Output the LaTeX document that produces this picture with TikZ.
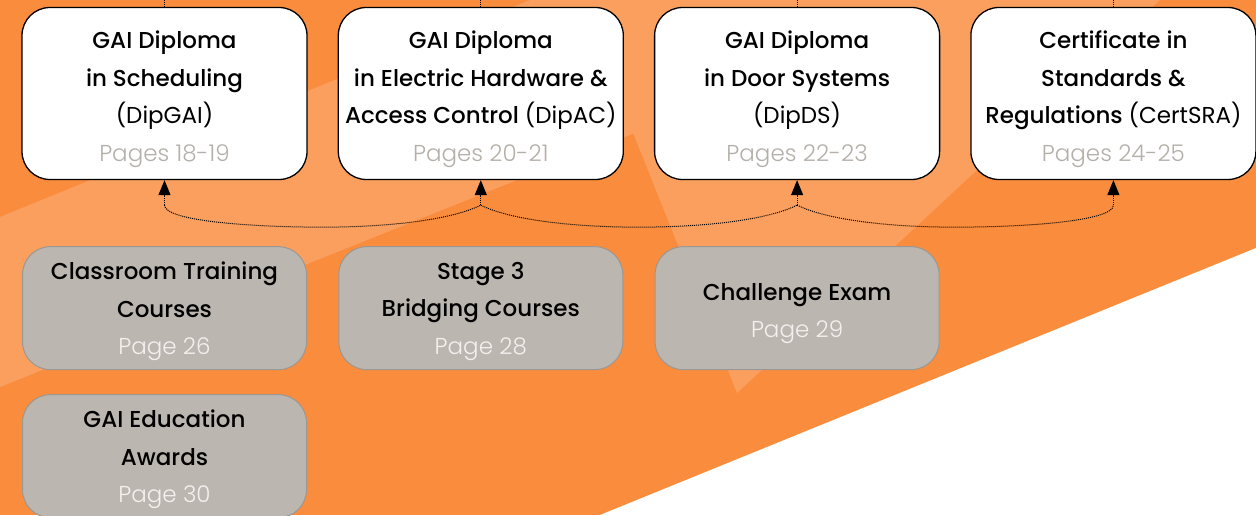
\documentclass[tikz,border=0pt]{standalone}
\usepackage{fontspec}
\setmainfont{Poppins}
\newfontfamily\medfont{Poppins Medium}
\newfontfamily\thinfont{Poppins Light}
\usetikzlibrary{arrows.meta, calc, positioning}
\definecolor{darkorange}{HTML}{F98C3D}
\definecolor{lightorange}{HTML}{FA9F5E}
\definecolor{boxgray}{HTML}{BBB6B0}
\definecolor{edgegray}{HTML}{9B9894}
\definecolor{pagegray}{HTML}{B5AFA9}
\definecolor{pagewhite}{HTML}{F3F1EF}
\newcommand{\topgap}{\rule{0pt}{23pt}}
\tikzstyle{course} = [rectangle, rounded corners=28pt, draw=black, line width=1.3pt, fill=white, minimum width=285pt, minimum height=172pt, inner sep=0pt, text depth=0pt, align=center, text=black, font=\fontsize{23}{37.5}\selectfont\medfont]
\tikzstyle{extra} = [course, draw=edgegray, line width=1pt, fill=boxgray, minimum width=284pt, minimum height=123pt]
\tikzstyle{link} = [densely dotted, line width=1pt, black]
\tikzstyle{arrow} = [link, -{Triangle[width=12pt,length=15pt]}]

\begin{document}
\begin{tikzpicture}[x=1pt, y=1pt]
	\useasboundingbox (0,0) rectangle (1256,515);
	\clip (0,0) rectangle (1256,515);
	% background
	\fill [darkorange] (0,0) rectangle (1256,515);
	\fill [lightorange] (0,298) -- (530,515) -- (967,515) -- (0,128) -- cycle;
	\fill [lightorange] (580,515) -- (1160,515) -- (737,122) -- cycle;
	\fill [white] (600,0) -- (1256,267) -- (1256,0) -- cycle;
	\coordinate (top) at (0,515);

	% qualifications
	\node (dipGAI) [course] at (164.5,421.5) {\topgap GAI Diploma\\in Scheduling\\{\rmfamily(DipGAI)}\\{\thinfont\color{pagegray}Pages 18-19}};
	\node (dipAC) [course, right = 30pt of dipGAI] {\topgap GAI Diploma\\in Electric Hardware \&\\Access Control {\rmfamily(DipAC)}\\{\thinfont\color{pagegray}Pages 20-21}};
	\node (dipDS) [course, right = 30pt of dipAC] {\topgap GAI Diploma\\in Door Systems\\{\rmfamily(DipDS)}\\{\thinfont\color{pagegray}Pages 22-23}};
	\node (certSRA) [course, right = 30pt of dipDS] {\topgap Certificate in\\Standards \&\\Regulations {\rmfamily(CertSRA)}\\{\thinfont\color{pagegray}Pages 24-25}};

	% other routes
	\node (classroom) [extra, below = 66pt of dipGAI] {Classroom Training\\Courses\\{\thinfont\color{pagewhite}Page 26}};
	\node (bridging) [extra, below = 66pt of dipAC] {Stage 3\\Bridging Courses\\{\thinfont\color{pagewhite}Page 28}};
	\node (challenge) [extra, below = 66pt of dipDS] {\rule{0pt}{22pt}Challenge Exam\\{\thinfont\color{pagewhite}Page 29}};
	\node (awards) [extra, below = 24pt of classroom] {GAI Education\\Awards\\{\thinfont\color{pagewhite}Page 30}};

	% links
	\coordinate (j1) at ($(dipGAI.south)+(0,-25)$);
	\coordinate (j2) at ($(dipAC.south)+(0,-25)$);
	\coordinate (j3) at ($(dipDS.south)+(0,-25)$);
	\coordinate (j4) at ($(certSRA.south)+(0,-25)$);
	\coordinate (m1) at ($(j1)!0.5!(j2)+(0,-22)$);
	\coordinate (m2) at ($(j2)!0.5!(j3)+(0,-22)$);
	\coordinate (m3) at ($(j3)!0.5!(j4)+(0,-22)$);
	\draw [arrow] (j1) -- (dipGAI.south);
	\draw [arrow] (j2) -- (dipAC.south);
	\draw [arrow] (j3) -- (dipDS.south);
	\draw [arrow] (j4) -- (certSRA.south);
	\draw [link] (j1) .. controls +(0,-16) and +(-70,0) .. (m1) .. controls +(70,0) and +(-28,-14) .. (j2);
	\draw [link] (j2) .. controls +(28,-14) and +(-70,0) .. (m2) .. controls +(70,0) and +(-28,-14) .. (j3);
	\draw [link] (j3) .. controls +(28,-14) and +(-70,0) .. (m3) .. controls +(70,0) and +(0,-16) .. (j4);
	\draw [link] (dipGAI.north) -- (dipGAI.north |- top);
	\draw [link] (dipAC.north) -- (dipAC.north |- top);
	\draw [link] (dipDS.north) -- (dipDS.north |- top);
	\draw [link] (certSRA.north) -- (certSRA.north |- top);
\end{tikzpicture}
\end{document}
